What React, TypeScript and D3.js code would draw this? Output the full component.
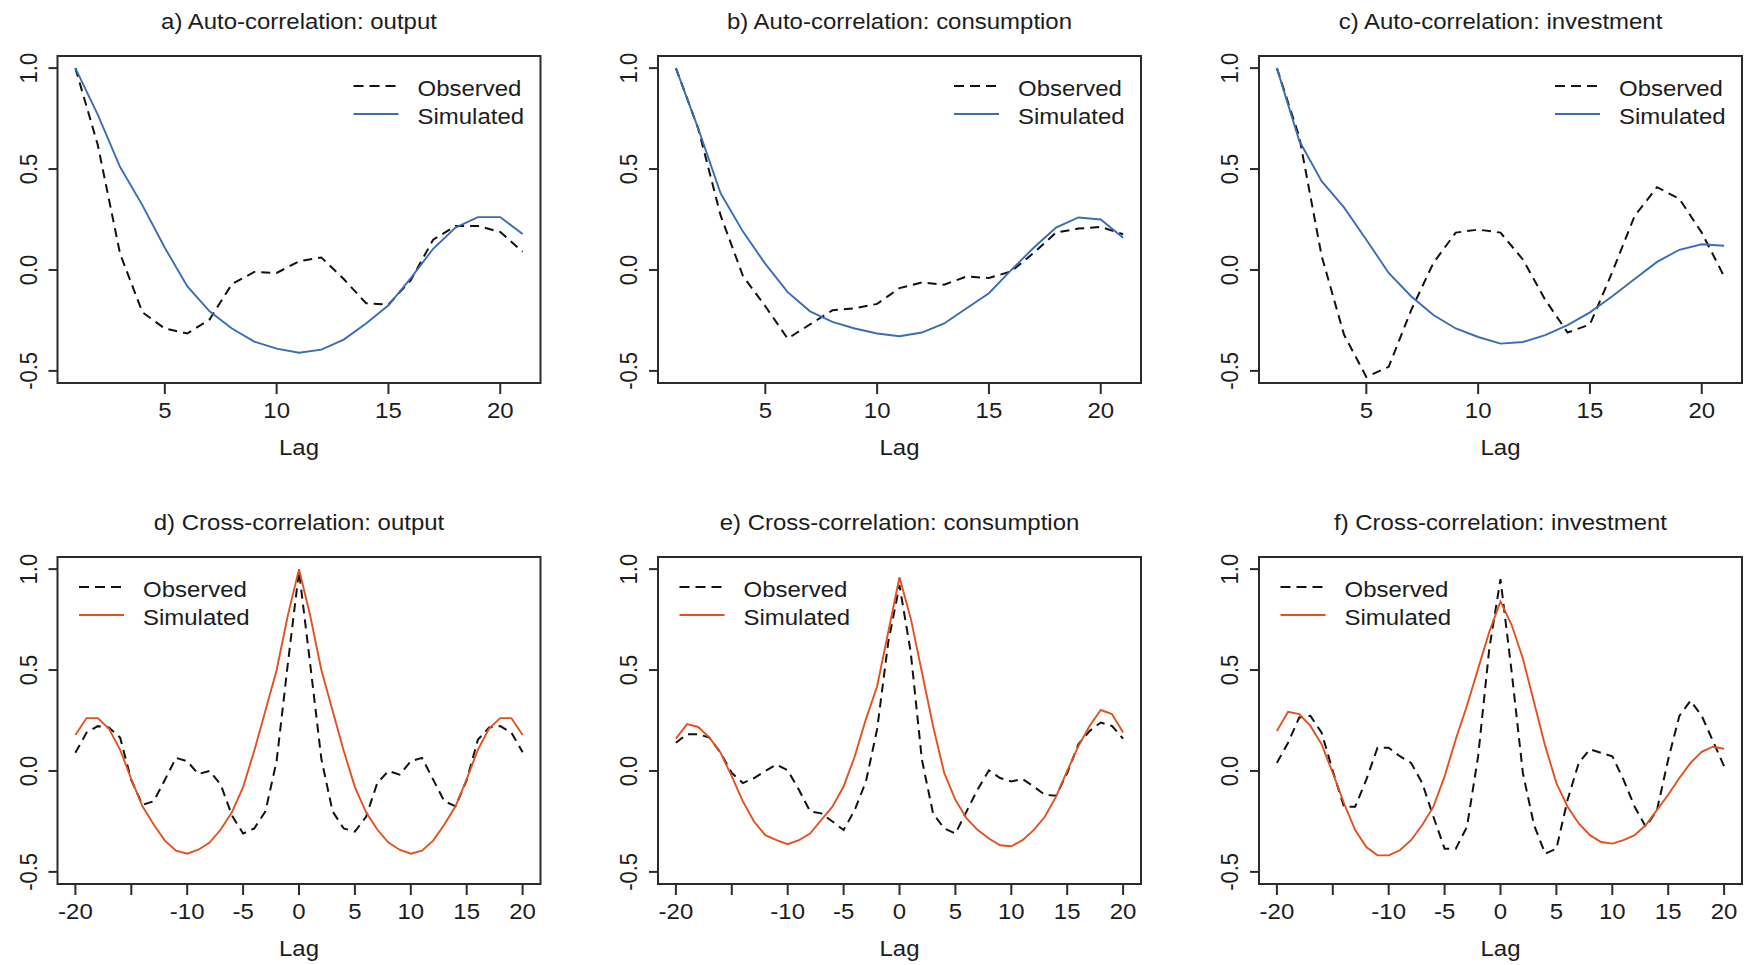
import React from "react";
import * as d3 from "d3";

// lags
const autoLags = [1, 2, 3, 4, 5, 6, 7, 8, 9, 10, 11, 12, 13, 14, 15, 16, 17, 18, 19, 20, 21];
const crossLags = [-20, -19, -18, -17, -16, -15, -14, -13, -12, -11, -10, -9, -8, -7, -6, -5, -4, -3, -2, -1,
  0, 1, 2, 3, 4, 5, 6, 7, 8, 9, 10, 11, 12, 13, 14, 15, 16, 17, 18, 19, 20];

// a) output
const obsA = [1.0, 0.62, 0.08, -0.21, -0.29, -0.315, -0.245, -0.07, -0.01, -0.015, 0.043, 0.062, -0.045, -0.165, -0.172, -0.05, 0.15, 0.218, 0.218, 0.188, 0.09];
const simA = [1.0, 0.77, 0.51, 0.32, 0.11, -0.08, -0.205, -0.29, -0.355, -0.39, -0.41, -0.395, -0.345, -0.265, -0.175, -0.04, 0.105, 0.21, 0.262, 0.262, 0.178];
// b) consumption
const obsB = [1.0, 0.7, 0.27, -0.03, -0.18, -0.34, -0.27, -0.2, -0.19, -0.168, -0.09, -0.062, -0.073, -0.032, -0.04, -0.007, 0.085, 0.185, 0.205, 0.213, 0.177];
const simB = [1.0, 0.7, 0.38, 0.19, 0.03, -0.11, -0.205, -0.257, -0.29, -0.315, -0.328, -0.31, -0.265, -0.19, -0.115, 0.0, 0.11, 0.21, 0.26, 0.25, 0.16];
// c) investment
const obsC = [1.0, 0.66, 0.07, -0.32, -0.53, -0.48, -0.2, 0.035, 0.185, 0.2, 0.185, 0.052, -0.148, -0.31, -0.27, -0.01, 0.268, 0.41, 0.352, 0.185, -0.032];
const simC = [1.0, 0.64, 0.44, 0.31, 0.15, -0.015, -0.13, -0.223, -0.29, -0.332, -0.365, -0.357, -0.323, -0.273, -0.21, -0.13, -0.045, 0.04, 0.1, 0.127, 0.12];

// d) cross output
const obsD = [0.09, 0.19, 0.222, 0.215, 0.165, -0.045, -0.168, -0.15, -0.045, 0.065, 0.048, -0.015, 0.0, -0.068, -0.22, -0.31, -0.285, -0.2, 0.05, 0.53,
  0.99, 0.53, 0.06, -0.2, -0.285, -0.3, -0.227, -0.06, 0.0, -0.018, 0.048, 0.065, -0.043, -0.15, -0.175, -0.045, 0.155, 0.215, 0.222, 0.19, 0.093];
const simD = [0.178, 0.262, 0.262, 0.21, 0.105, -0.04, -0.175, -0.265, -0.345, -0.395, -0.41, -0.39, -0.355, -0.29, -0.205, -0.08, 0.1, 0.3, 0.5, 0.77,
  1.0, 0.77, 0.5, 0.3, 0.1, -0.08, -0.205, -0.29, -0.355, -0.39, -0.41, -0.395, -0.345, -0.265, -0.175, -0.04, 0.105, 0.21, 0.262, 0.262, 0.178];
// e) cross consumption
const obsE = [0.14, 0.182, 0.182, 0.165, 0.09, -0.01, -0.06, -0.035, 0.0, 0.032, 0.003, -0.093, -0.2, -0.21, -0.25, -0.293, -0.193, -0.052, 0.207, 0.64,
  0.92, 0.59, 0.057, -0.21, -0.285, -0.31, -0.2, -0.09, 0.003, -0.035, -0.052, -0.04, -0.077, -0.118, -0.123, -0.01, 0.132, 0.198, 0.24, 0.223, 0.16];
const simE = [0.16, 0.232, 0.218, 0.165, 0.09, -0.027, -0.152, -0.252, -0.318, -0.343, -0.363, -0.343, -0.31, -0.243, -0.177, -0.077, 0.073, 0.257, 0.42, 0.69,
  0.96, 0.757, 0.49, 0.223, -0.01, -0.143, -0.235, -0.293, -0.335, -0.368, -0.373, -0.343, -0.293, -0.227, -0.127, 0.0, 0.123, 0.223, 0.302, 0.282, 0.19];
// f) cross investment
const obsF = [0.04, 0.14, 0.265, 0.273, 0.19, 0.0, -0.177, -0.177, -0.043, 0.115, 0.115, 0.073, 0.04, -0.06, -0.227, -0.385, -0.385, -0.277, 0.073, 0.607,
  0.95, 0.49, -0.01, -0.268, -0.41, -0.385, -0.143, 0.04, 0.107, 0.09, 0.073, -0.043, -0.177, -0.277, -0.193, 0.057, 0.273, 0.348, 0.273, 0.148, 0.023];
const simF = [0.198, 0.293, 0.282, 0.223, 0.132, -0.01, -0.16, -0.293, -0.377, -0.418, -0.418, -0.393, -0.343, -0.268, -0.177, -0.027, 0.157, 0.323, 0.507, 0.69,
  0.84, 0.723, 0.557, 0.34, 0.123, -0.06, -0.177, -0.26, -0.318, -0.352, -0.36, -0.343, -0.318, -0.268, -0.193, -0.118, -0.035, 0.04, 0.095, 0.12, 0.11];

const titles = [
  "a) Auto-correlation: output",
  "b) Auto-correlation: consumption",
  "c) Auto-correlation: investment",
  "d) Cross-correlation: output",
  "e) Cross-correlation: consumption",
  "f) Cross-correlation: investment",
];
const autoTicks = [5, 10, 15, 20];
const crossTicks = [-20, -15, -10, -5, 0, 5, 10, 15, 20];
const crossTickLabels = ["-20", "", "-10", "-5", "0", "5", "10", "15", "20"];
const yTicks = [-0.5, 0, 0.5, 1];
const yTickLabels = ["-0.5", "0.0", "0.5", "1.0"];
const legendLabels = ["Observed", "Simulated"];

const BLUE = "#3a6db3";
const RED = "#e2511f";
const INK = "#1c1c1c";
const FONT = "'Liberation Sans', Arial, sans-serif";
const FS = 22;
const SX = 1.09; // glyphs in the picture are a bit wider than tall

const colLeft = [57.5, 658, 1259];
const rowTop = [56, 557];
const plotW = 483;
const plotH = 327;

const panels = [
  { title: titles[0], lags: autoLags, obs: obsA, sim: simA, color: BLUE, cross: false },
  { title: titles[1], lags: autoLags, obs: obsB, sim: simB, color: BLUE, cross: false },
  { title: titles[2], lags: autoLags, obs: obsC, sim: simC, color: BLUE, cross: false },
  { title: titles[3], lags: crossLags, obs: obsD, sim: simD, color: RED, cross: true },
  { title: titles[4], lags: crossLags, obs: obsE, sim: simE, color: RED, cross: true },
  { title: titles[5], lags: crossLags, obs: obsF, sim: simF, color: RED, cross: true },
];

function Txt({ x, y, anchor = "start", rotate = false, children }: any) {
  const tr = `translate(${x},${y}) scale(${SX},1)` + (rotate ? " rotate(-90)" : "");
  return (
    <g transform={tr}>
      <text textAnchor={anchor} fontFamily={FONT} fontSize={FS} fill={INK}>
        {children}
      </text>
    </g>
  );
}

function Panel({ p, i }: any) {
  const left = colLeft[i % 3];
  const top = rowTop[Math.floor(i / 3)];
  const right = left + plotW;
  const bottom = top + plotH;

  const x = d3.scaleLinear()
    .domain(p.cross ? [-21.6, 21.6] : [0.2, 21.8])
    .range([left, right]);
  const y = d3.scaleLinear().domain([-0.56, 1.06]).range([bottom, top]);

  const line = d3.line<number>()
    .x((_, k) => x(p.lags[k]))
    .y((d) => y(d));

  const ticks = p.cross ? crossTicks : autoTicks;
  const tickLabels = p.cross ? crossTickLabels : autoTicks.map(String);
  const clipId = "clip" + i;

  // legend: top-right for auto panels, top-left for cross panels
  const lgX = p.cross ? left + 21.5 : right - 187;
  const lgY = [top + 30, top + 58];

  return (
    <g>
      <defs>
        <clipPath id={clipId}>
          <rect x={left} y={top} width={plotW} height={plotH} />
        </clipPath>
      </defs>
      <Txt x={(left + right) / 2} y={top - 27} anchor="middle">{p.title}</Txt>

      <g clipPath={`url(#${clipId})`}>
        <path d={line(p.obs) || ""} fill="none" stroke="#111" strokeWidth={2} strokeDasharray="9,6" />
        <path d={line(p.sim) || ""} fill="none" stroke={p.color} strokeWidth={1.9} />
      </g>

      <rect x={left} y={top} width={plotW} height={plotH} fill="none" stroke="#2b2b2b" strokeWidth={2} />

      {ticks.map((t: number, k: number) => (
        <g key={"x" + k}>
          <line x1={x(t)} x2={x(t)} y1={bottom} y2={bottom + 11} stroke="#2b2b2b" strokeWidth={2} />
          {tickLabels[k] && <Txt x={x(t)} y={bottom + 35} anchor="middle">{tickLabels[k]}</Txt>}
        </g>
      ))}
      {yTicks.map((t, k) => (
        <g key={"y" + k}>
          <line x1={left - 9} x2={left} y1={y(t)} y2={y(t)} stroke="#2b2b2b" strokeWidth={2} />
          <Txt x={left - 21} y={y(t)} anchor="middle" rotate>{yTickLabels[k]}</Txt>
        </g>
      ))}
      <Txt x={(left + right) / 2} y={bottom + 72} anchor="middle">Lag</Txt>

      <line x1={lgX} x2={lgX + 45} y1={lgY[0]} y2={lgY[0]} stroke="#111" strokeWidth={2} strokeDasharray="10,6" />
      <line x1={lgX} x2={lgX + 45} y1={lgY[1]} y2={lgY[1]} stroke={p.color} strokeWidth={1.9} />
      <Txt x={lgX + 64} y={lgY[0] + 10} >{legendLabels[0]}</Txt>
      <Txt x={lgX + 64} y={lgY[1] + 10} >{legendLabels[1]}</Txt>
    </g>
  );
}

export default function App() {
  return (
    <svg width={1745} height={965} style={{ position: "absolute", left: 0, top: 0, background: "#fff" }}>
      <rect width={1745} height={965} fill="#fff" />
      {panels.map((p, i) => <Panel key={i} p={p} i={i} />)}
    </svg>
  );
}
